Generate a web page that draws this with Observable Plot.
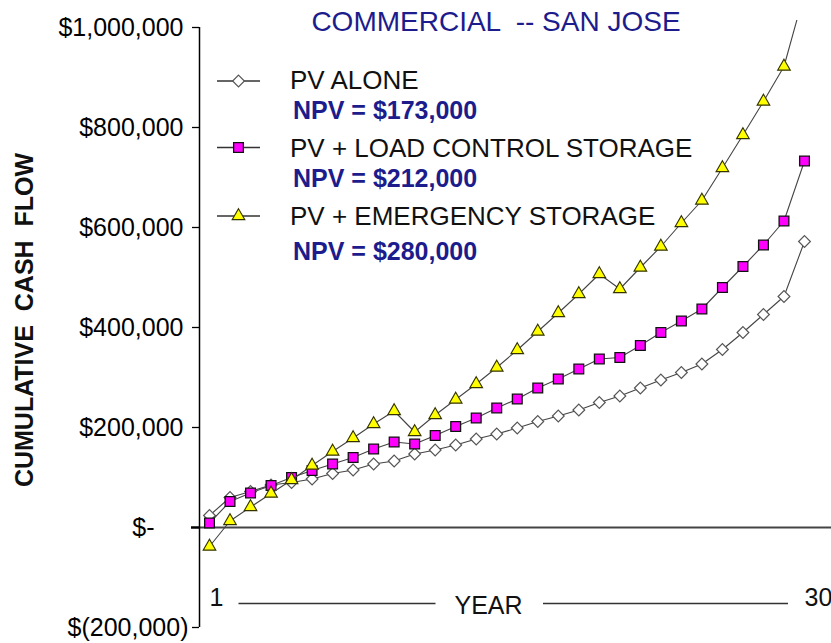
<!DOCTYPE html>
<html><head><meta charset="utf-8">
<script src="https://cdn.jsdelivr.net/npm/d3@7"></script>
<script src="https://cdn.jsdelivr.net/npm/@observablehq/plot@0.6"></script>
<style>
body{margin:0;background:#fff;font-family:"Liberation Sans",Arial,Helvetica,sans-serif;}
#wrap{position:relative;width:831px;height:643px;overflow:hidden;}
#wrap > svg{position:absolute;left:0;top:0;}
</style></head><body><div id="wrap"></div>
<script>
// ---- data ----
const years = [1,2,3,4,5,6,7,8,9,10,11,12,13,14,15,16,17,18,19,20,21,22,23,24,25,26,27,28,29,30];
const pvAlone = [24000,60000,72000,85000,90000,97000,108000,115000,127000,133000,147000,155000,165000,177000,187000,199000,212000,223000,235000,250000,263000,279000,295000,310000,327000,356000,390000,426000,462000,572000];
const loadControl = [9000,52000,69000,84000,100000,114000,127000,140000,157000,171000,167000,184000,202000,219000,239000,257000,279000,297000,317000,337000,340000,364000,390000,413000,437000,480000,522000,565000,613000,733000];
const emergency = [-38000,13000,41000,68000,95000,124000,152000,179000,207000,233000,191000,225000,256000,287000,320000,355000,392000,429000,467000,507000,477000,520000,562000,609000,654000,719000,785000,852000,922000,1070000];
const seriesNames = ["PV ALONE", "PV + LOAD CONTROL STORAGE", "PV + EMERGENCY STORAGE"];
const npvLabels = ["NPV = $173,000", "NPV = $212,000", "NPV = $280,000"];
const yTicks = [-200000, 0, 200000, 400000, 600000, 800000, 1000000];
const titleText = "COMMERCIAL  -- SAN JOSE";
const yLabelText = "CUMULATIVE  CASH  FLOW";
const xLabelText = "YEAR";

// ---- styles ----
const seriesValues = [pvAlone, loadControl, emergency];
const seriesStyle = [
  {symbol: "diamond2", fill: "#ffffff", stroke: "#555555", r: 5.3, sw: 1.2, d3sym: d3.symbolDiamond2},
  {symbol: "square", fill: "#ff00ff", stroke: "#111111", r: 5.5, sw: 1.3, d3sym: d3.symbolSquare},
  {symbol: "triangle", fill: "#ffff00", stroke: "#333300", r: 4.7, sw: 1.1, d3sym: d3.symbolTriangle}
];
const navy = "#1c1c8c";
const W = 831, H = 643;

const rows = seriesNames.flatMap((s, i) => years.map((yr, j) => ({series: s, year: yr, value: seriesValues[i][j]})));

const xDomain = [0.5126, 31.316];
const fmt = d => d === 0 ? "$-" : d < 0 ? "$(" + d3.format(",")(-d) + ")" : "$" + d3.format(",")(d);

const marks = [
  Plot.ruleY([0], {stroke: "#444", strokeWidth: 2}),
  Plot.ruleX([xDomain[0]], {y1: d3.min(yTicks), y2: d3.max(yTicks), stroke: "#000", strokeWidth: 1.5}),
  Plot.axisY(yTicks.filter(d => d > 0), {label: null, tickFormat: fmt, tickSize: 7, tickPadding: 9, fontSize: 25, strokeWidth: 1.3}),
  Plot.axisY(yTicks.filter(d => d === 0), {label: null, tickFormat: fmt, tickSize: 8, tickPadding: 37, fontSize: 25, strokeWidth: 2.5}),
  Plot.axisY(yTicks.filter(d => d < 0), {label: null, tickFormat: fmt, tickSize: 7, tickPadding: 4, fontSize: 25, strokeWidth: 1.3}),
  Plot.text([years[0], years[years.length - 1]], {x: d => d, text: d => String(d), frameAnchor: "bottom", dy: -22, textAnchor: "start", fontSize: 25, fill: "#111"})
];
seriesNames.forEach((s, i) => {
  const data = rows.filter(r => r.series === s);
  const st = seriesStyle[i];
  marks.push(Plot.line(data, {x: "year", y: "value", stroke: "#444", strokeWidth: 1.1, clip: true}));
  marks.push(Plot.dot(data, {x: "year", y: "value", symbol: () => st.symbol, r: st.r, fill: st.fill, stroke: st.stroke, strokeWidth: st.sw, clip: true}));
});

const chart = Plot.plot({
  width: W, height: H,
  marginLeft: 199, marginRight: 0, marginTop: 20, marginBottom: 16,
  style: {fontFamily: '"Liberation Sans", Arial, sans-serif', color: "#000", background: "transparent"},
  x: {domain: xDomain, axis: null},
  y: {domain: [-200000, 1014000], axis: null, label: null},
  symbol: {type: "identity"},
  marks
});
document.getElementById("wrap").appendChild(chart);

// ---- overlay: title, legend, axis titles ----
const ov = d3.select("#wrap").append("svg")
  .attr("width", W).attr("height", H)
  .style("pointer-events", "none")
  .style("font-family", '"Liberation Sans", Arial, sans-serif');

ov.append("text").attr("x", 496).attr("y", 31).attr("text-anchor", "middle")
  .attr("font-size", 28).attr("fill", navy).style("white-space", "pre").attr("xml:space", "preserve").text(titleText);

ov.append("text").attr("transform", "translate(33,320) rotate(-90)").attr("text-anchor", "middle")
  .attr("font-size", 25).attr("font-weight", "bold").attr("fill", "#111")
  .style("white-space", "pre").attr("xml:space", "preserve").text(yLabelText);

const legendLineY = [81, 147.5, 216];
const legendTextY = [89, 157, 225];
const npvTextY = [119, 187, 260];
seriesNames.forEach((s, i) => {
  const st = seriesStyle[i];
  ov.append("line").attr("x1", 217).attr("x2", 260).attr("y1", legendLineY[i]).attr("y2", legendLineY[i])
    .attr("stroke", "#333").attr("stroke-width", 1.3);
  ov.append("path").attr("transform", `translate(238.5,${legendLineY[i]})`)
    .attr("d", d3.symbol().type(st.d3sym).size(Math.PI * st.r * st.r)())
    .attr("fill", st.fill).attr("stroke", st.stroke).attr("stroke-width", st.sw);
  ov.append("text").attr("x", 290).attr("y", legendTextY[i]).attr("font-size", 26).attr("fill", "#111").text(s);
  ov.append("text").attr("x", 293).attr("y", npvTextY[i]).attr("font-size", 25).attr("font-weight", "bold").attr("fill", navy).text(npvLabels[i]);
});

ov.append("text").attr("x", 488.5).attr("y", 614).attr("text-anchor", "middle").attr("font-size", 25).attr("fill", "#111").text(xLabelText);
ov.append("line").attr("x1", 238.5).attr("x2", 435.5).attr("y1", 603.5).attr("y2", 603.5).attr("stroke", "#333").attr("stroke-width", 1.5);
ov.append("line").attr("x1", 543).attr("x2", 788).attr("y1", 603.5).attr("y2", 603.5).attr("stroke", "#333").attr("stroke-width", 1.5);
</script>
</body></html>
